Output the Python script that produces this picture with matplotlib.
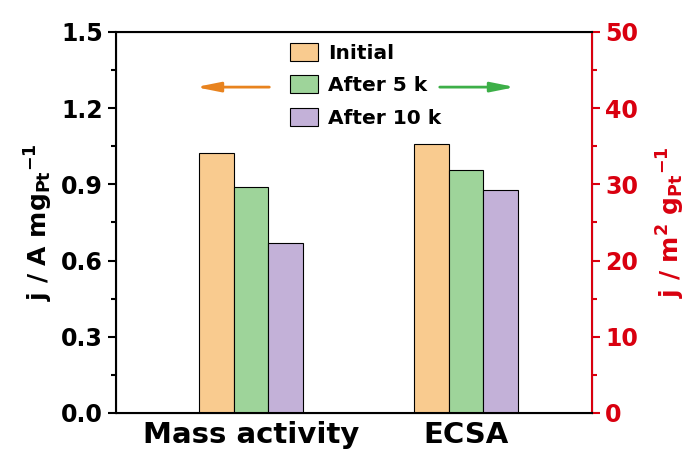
import matplotlib
matplotlib.use("Agg")
import matplotlib.pyplot as plt
import numpy as np
from matplotlib.patches import Patch
from matplotlib.ticker import FormatStrFormatter, MultipleLocator

plt.rcParams["font.family"] = ["DejaVu Sans"]
plt.rcParams["font.weight"] = "bold"
plt.rcParams["mathtext.fontset"] = "custom"
plt.rcParams["mathtext.rm"] = "DejaVu Sans:bold"
plt.rcParams["mathtext.bf"] = "DejaVu Sans:bold"
plt.rcParams["mathtext.it"] = "DejaVu Sans:bold"
plt.rcParams["mathtext.default"] = "bf"

categories = ["Mass activity", "ECSA"]
series = ["Initial", "After 5 k", "After 10 k"]
colors = ["#F9CB8F", "#9ED49A", "#C3B1D8"]
mass_activity = [1.024, 0.889, 0.668]   # A mg_Pt^-1, left axis
ecsa = [35.3, 31.9, 29.3]               # m2 g_Pt^-1, right axis

red = "#D9000F"


def main() -> None:
    fig = plt.figure(figsize=(6.92, 4.57), dpi=100)
    ax = fig.add_axes([0.1676, 0.0963, 0.6879, 0.8337])
    ax2 = ax.twinx()

    width = 0.16
    offsets = (np.arange(3) - 1) * width
    for i in range(3):
        ax.bar(0 + offsets[i], mass_activity[i], width, color=colors[i],
               edgecolor="black", linewidth=0.8)
        ax2.bar(1 + offsets[i], ecsa[i], width, color=colors[i],
                edgecolor="black", linewidth=0.8)

    ax.set_xlim(-0.628, 1.586)
    ax.set_ylim(0, 1.5)
    ax2.set_ylim(0, 50)
    ax.set_xticks([0, 1])
    ax.set_xticklabels(categories, fontsize=21, fontweight="bold")
    ax.tick_params(axis="x", length=0, pad=6)

    ax.yaxis.set_major_locator(MultipleLocator(0.3))
    ax.yaxis.set_minor_locator(MultipleLocator(0.15))
    ax.yaxis.set_major_formatter(FormatStrFormatter("%.1f"))
    ax.tick_params(axis="y", which="major", direction="out", length=6,
                   width=1.5, labelsize=17)
    ax.tick_params(axis="y", which="minor", direction="out", length=3.5,
                   width=1.5)

    ax2.yaxis.set_major_locator(MultipleLocator(10))
    ax2.yaxis.set_minor_locator(MultipleLocator(5))
    ax2.tick_params(axis="y", which="major", direction="out", length=6,
                    width=1.5, labelsize=17, colors=red)
    ax2.tick_params(axis="y", which="minor", direction="out", length=3.5,
                    width=1.5, colors=red)

    for sp in ["left", "top", "bottom", "right"]:
        ax2.spines[sp].set_linewidth(1.5)
    ax2.spines["right"].set_color(red)

    ax.set_ylabel("j / A mg$_{Pt}$$^{-1}$", fontsize=18, fontweight="bold",
                  labelpad=4)
    ax2.set_ylabel("j / m$^{2}$ g$_{Pt}$$^{-1}$", fontsize=18,
                   fontweight="bold", color=red, labelpad=12)

    handles = [Patch(facecolor=c, edgecolor="black", linewidth=0.8)
               for c in colors]
    ax2.legend(handles, series, loc="upper left",
               bbox_to_anchor=(290 / 692, 1 - 43 / 457),
               bbox_transform=fig.transFigure, frameon=False,
               prop={"size": 14.5, "weight": "bold"},
               borderpad=0, borderaxespad=0,
               handlelength=1.4, handleheight=1.0, handletextpad=0.5,
               labelspacing=0.62)

    head = "-|>,head_length=0.8,head_width=0.16"
    ax.annotate("", xy=(-0.27, 1.283), xytext=(0.098, 1.283),
                arrowprops=dict(arrowstyle=head, color="#E8831F", lw=2,
                                mutation_scale=18))
    ax.annotate("", xy=(1.242, 1.283), xytext=(0.865, 1.283),
                arrowprops=dict(arrowstyle=head, color="#3DAF48", lw=2,
                                mutation_scale=18))

    fig.savefig("out.png", dpi=100)


if __name__ == "__main__":
    main()
